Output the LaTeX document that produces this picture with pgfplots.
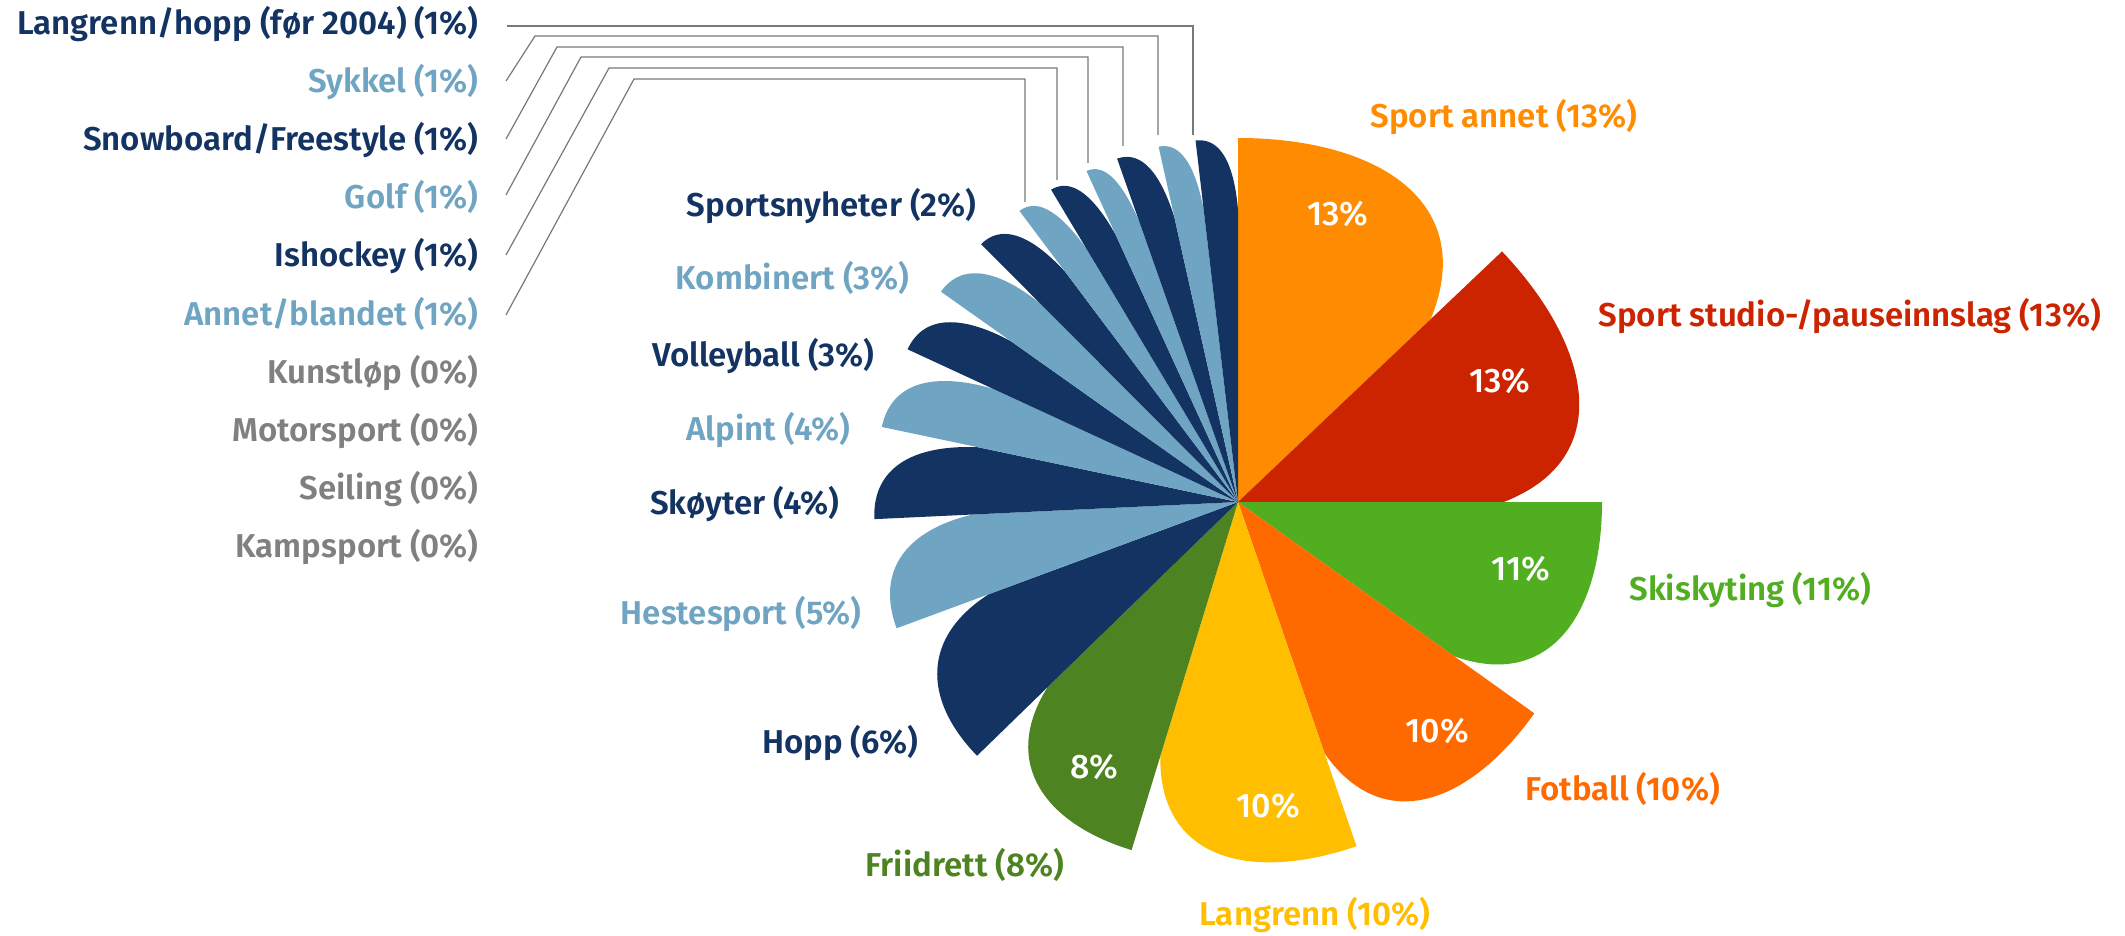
\documentclass[border=0pt]{standalone}
\usepackage{fontspec}
\setmainfont{Fira Sans}[BoldFont={Fira Sans SemiBold}]
\newfontfamily\fmed{Fira Sans Medium}
\usepackage{pgfplots}
\pgfplotsset{compat=1.18}
\definecolor{cOrange}{RGB}{255,140,0}
\definecolor{cRed}{RGB}{204,36,0}
\definecolor{cGreen}{RGB}{80,174,32}
\definecolor{cFot}{RGB}{255,106,0}
\definecolor{cYel}{RGB}{255,190,0}
\definecolor{cDkGreen}{RGB}{78,131,33}
\definecolor{cNavy}{RGB}{19,52,99}
\definecolor{cLight}{RGB}{111,165,194}
\definecolor{cGrey}{RGB}{128,128,128}
\definecolor{cLine}{RGB}{120,120,120}

% petal: start angle (deg, clockwise from top), span (deg), colour
\newcommand{\petal}[3]{%
 \pgfmathsetmacro\pth{#1}%
 \pgfmathsetmacro\psp{#2}%
 \pgfmathsetmacro\pR{364}%
 \pgfmathsetmacro\prE{\pR*(0.73+0.01*max(0,14-\psp))}%
 \pgfmathsetmacro\puE{\prE*cos(\psp)}%
 \pgfmathsetmacro\pvE{\prE*sin(\psp)}%
 \pgfmathsetmacro\puM{\puE+0.65*(\pR-\puE)}%
 \pgfmathsetmacro\pe{0.25*min(1,\psp/40)}%
 \pgfmathsetmacro\pvA{0.72*\pvE}%
 \pgfmathsetmacro\pvB{(1+\pe)*\pvE}%
 \addplot[fill=#3, draw=none, domain=0:1, samples=60, variable=\t]
  ({1238 + ((1-\t)^3*\pR + 3*(1-\t)^2*\t*\pR + 3*(1-\t)*\t^2*\puM + \t^3*\puE)*sin(\pth)
          + (3*(1-\t)^2*\t*\pvA + 3*(1-\t)*\t^2*\pvB + \t^3*\pvE)*cos(\pth)},
   {502 - ((1-\t)^3*\pR + 3*(1-\t)^2*\t*\pR + 3*(1-\t)*\t^2*\puM + \t^3*\puE)*cos(\pth)
          + (3*(1-\t)^2*\t*\pvA + 3*(1-\t)*\t^2*\pvB + \t^3*\pvE)*sin(\pth)})
  -- (axis cs:1238,502) -- cycle;
}

\begin{document}
\begin{tikzpicture}
\begin{axis}[width=1062.5pt, height=468pt, scale only axis,
  xmin=0, xmax=2125, ymin=0, ymax=936, y dir=reverse,
  axis line style={draw=none}, ticks=none, clip=false]

% slices (start angle, drawn span)
\petal{0}{46.5}{cOrange}      % Sport annet 13%
\petal{46.5}{43.5}{cRed}      % Sport studio-/pauseinnslag 13%
\petal{90}{35.5}{cGreen}      % Skiskyting 11%
\petal{125.5}{35.5}{cFot}     % Fotball 10%
\petal{161}{36}{cYel}         % Langrenn 10%
\petal{197}{28.8}{cDkGreen}   % Friidrett 8%
\petal{225.8}{23.9}{cNavy}    % Hopp 6%
\petal{249.7}{17.6}{cLight}   % Hestesport 5%
\petal{267.3}{14.6}{cNavy}    % Skoyter 4%
\petal{281.9}{12.9}{cLight}   % Alpint 4%
\petal{294.8}{10.5}{cNavy}    % Volleyball 3%
\petal{305.3}{9.8}{cLight}    % Kombinert 3%
\petal{315.1}{8.0}{cNavy}     % Sportsnyheter 2%
\petal{323.1}{6.0}{cLight}    % Annet/blandet 1%
\petal{329.1}{6.3}{cNavy}     % Ishockey 1%
\petal{335.4}{5.2}{cLight}    % Golf 1%
\petal{340.6}{6.8}{cNavy}     % Snowboard/Freestyle 1%
\petal{347.4}{5.9}{cLight}    % Sykkel 1%
\petal{353.3}{6.7}{cNavy}     % Langrenn/hopp 1%

% leader lines
\addplot[cLine, line width=0.6pt] coordinates {(507,26) (1193,26) (1193,135)};
\addplot[cLine, line width=0.6pt] coordinates {(506,81) (535,36) (1158,36) (1158,135)};
\addplot[cLine, line width=0.6pt] coordinates {(506,139) (557,47) (1123,47) (1123,146)};
\addplot[cLine, line width=0.6pt] coordinates {(506,195) (581,57) (1088,57) (1088,163)};
\addplot[cLine, line width=0.6pt] coordinates {(506,255) (609,68) (1057,68) (1057,180)};
\addplot[cLine, line width=0.6pt] coordinates {(506,315) (634,79) (1025,79) (1025,202)};

\tikzset{lab/.style={font=\bfseries\fontsize{16.5}{18}\selectfont, inner sep=0pt},
         inl/.style={font=\fmed\fontsize{17}{18}\selectfont, text=white, inner sep=0pt, anchor=base}}

% inside percentages
\node[inl] at (axis cs:1338,226) {13\%};
\node[inl] at (axis cs:1500,392) {13\%};
\node[inl] at (axis cs:1521,580) {11\%};
\node[inl] at (axis cs:1437,742) {10\%};
\node[inl] at (axis cs:1268,817) {10\%};
\node[inl] at (axis cs:1094,778) {8\%};

% outer labels
\node[lab, anchor=base, text=cOrange] at (axis cs:1504,128) {Sport annet (13\%)};
\node[lab, anchor=base west, text=cRed] at (axis cs:1598,327) {Sport studio-/pauseinnslag (13\%)};
\node[lab, anchor=base west, text=cGreen] at (axis cs:1629,600) {Skiskyting (11\%)};
\node[lab, anchor=base west, text=cFot] at (axis cs:1525,800) {Fotball (10\%)};
\node[lab, anchor=base, text=cYel] at (axis cs:1315,925) {Langrenn (10\%)};
\node[lab, anchor=base, text=cDkGreen] at (axis cs:965,876) {Friidrett (8\%)};
\node[lab, anchor=base east, text=cNavy] at (axis cs:919,753) {Hopp (6\%)};
\node[lab, anchor=base east, text=cLight] at (axis cs:862,624) {Hestesport (5\%)};
\node[lab, anchor=base east, text=cNavy] at (axis cs:840,514) {Skøyter (4\%)};
\node[lab, anchor=base east, text=cLight] at (axis cs:851,440) {Alpint (4\%)};
\node[lab, anchor=base east, text=cNavy] at (axis cs:875,366) {Volleyball (3\%)};
\node[lab, anchor=base east, text=cLight] at (axis cs:910,290) {Kombinert (3\%)};
\node[lab, anchor=base east, text=cNavy] at (axis cs:977,217) {Sportsnyheter (2\%)};

% left list
\node[lab, anchor=base east, text=cNavy] at (axis cs:479,35) {Langrenn/hopp (før 2004) (1\%)};
\node[lab, anchor=base east, text=cLight] at (axis cs:479,93) {Sykkel (1\%)};
\node[lab, anchor=base east, text=cNavy] at (axis cs:479,151) {Snowboard/Freestyle (1\%)};
\node[lab, anchor=base east, text=cLight] at (axis cs:479,209) {Golf (1\%)};
\node[lab, anchor=base east, text=cNavy] at (axis cs:479,267) {Ishockey (1\%)};
\node[lab, anchor=base east, text=cLight] at (axis cs:479,325) {Annet/blandet (1\%)};
\node[lab, anchor=base east, text=cGrey] at (axis cs:479,383) {Kunstløp (0\%)};
\node[lab, anchor=base east, text=cGrey] at (axis cs:479,441) {Motorsport (0\%)};
\node[lab, anchor=base east, text=cGrey] at (axis cs:479,499) {Seiling (0\%)};
\node[lab, anchor=base east, text=cGrey] at (axis cs:479,557) {Kampsport (0\%)};
\end{axis}
\end{tikzpicture}
\end{document}
